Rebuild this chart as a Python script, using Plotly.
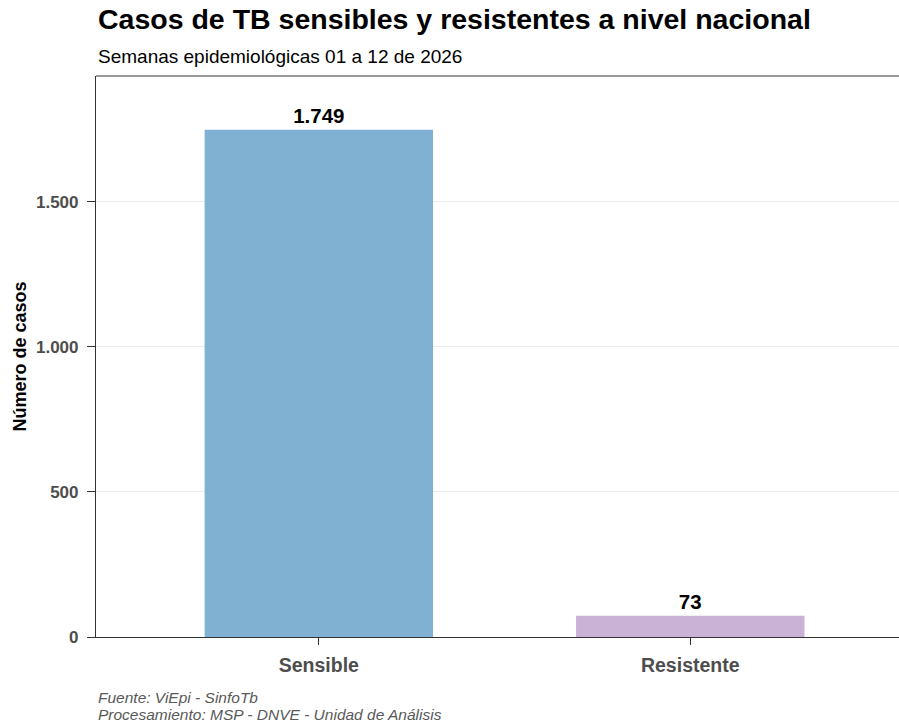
import plotly.graph_objects as go

# ── Data ──────────────────────────────────────────────────────────────────────
categorias = ["Sensible", "Resistente"]
casos = [1749, 73]
colores = ["#80b1d3", "#cab2d6"]
y_ticks = [0, 500, 1000, 1500]

etiquetas = [f"{v:,}".replace(",", ".") for v in casos]

FONT = "Liberation Sans, Arial, sans-serif"

# plot panel in pixels: x 96..899, y 76..637
PLOT_H = 637 - 76


def py(ypx):
    """pixel row -> paper y"""
    return (637 - ypx) / PLOT_H


fig = go.Figure()
fig.add_trace(go.Bar(
    x=categorias, y=casos,
    marker=dict(color=colores, line=dict(width=0)),
    width=0.615,
    text=etiquetas, textposition="outside",
    textfont=dict(family=FONT, size=20.5, color="black", weight="bold"),
    cliponaxis=False,
    showlegend=False,
))

fig.update_xaxes(
    range=[-0.6, 1.562],
    showline=True, linecolor="#333333", linewidth=1.2,
    ticks="outside", ticklen=7, tickcolor="#333333",
    ticklabelstandoff=3,
    tickfont=dict(family=FONT, size=19.5, color="#4d4d4d", weight="bold"),
    showgrid=False, zeroline=False,
)
fig.update_yaxes(
    range=[0, 1934],
    tickvals=y_ticks, tickformat=",d",
    showline=True, linecolor="#333333", linewidth=1.2,
    ticks="outside", ticklen=8, tickcolor="#333333",
    ticklabelstandoff=5,
    tickfont=dict(family=FONT, size=17, color="#4d4d4d", weight="bold"),
    showgrid=True, gridcolor="#ebebeb", gridwidth=1,
    zeroline=False,
)

# top border of the panel
fig.add_shape(type="line", xref="paper", yref="paper",
              x0=0, x1=1, y0=1, y1=1,
              line=dict(color="#333333", width=1.2))

# y-axis title
fig.add_annotation(
    xref="paper", yref="paper", x=(19 - 96) / 803, y=0.5,
    xanchor="center", yanchor="middle", textangle=-90, showarrow=False,
    text="<b>Número de casos</b>",
    font=dict(family=FONT, size=18, color="black"),
)

# title and subtitle
fig.add_annotation(
    xref="paper", yref="paper", x=0, y=py(19), xanchor="left", yanchor="middle",
    showarrow=False, text="<b>Casos de TB sensibles y resistentes a nivel nacional</b>",
    font=dict(family=FONT, size=28.5, color="black"),
)
fig.add_annotation(
    xref="paper", yref="paper", x=0, y=py(56), xanchor="left", yanchor="middle",
    showarrow=False, text="Semanas epidemiológicas 01 a 12 de 2026",
    font=dict(family=FONT, size=19, color="black"),
)

# caption
for texto, ypx in [("Fuente: ViEpi - SinfoTb", 697),
                   ("Procesamiento: MSP - DNVE - Unidad de Análisis", 714)]:
    fig.add_annotation(
        xref="paper", yref="paper", x=0, y=py(ypx), xanchor="left", yanchor="middle",
        showarrow=False, text=f"<i>{texto}</i>",
        font=dict(family=FONT, size=15.5, color="#595959"),
    )

fig.update_layout(
    width=899, height=725,
    separators=",.",
    margin=dict(l=96, r=0, t=76, b=88),
    paper_bgcolor="white", plot_bgcolor="white",
)

fig.write_html("out.html", config={"displayModeBar": False},
               post_script="document.body.style.margin='0';"
                           "document.body.style.overflow='hidden';")
